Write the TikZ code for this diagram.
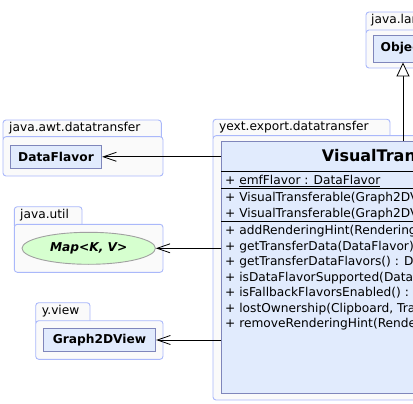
\documentclass[tikz,border=0pt]{standalone}
\usepackage{fontspec}
\setmainfont{DejaVu Sans}
\usetikzlibrary{arrows.meta,shapes.geometric}
\definecolor{pkgblue}{HTML}{AAB8FA}
\definecolor{pkgfill}{HTML}{FAFAFA}
\definecolor{clsfill}{HTML}{E1EBFD}
\definecolor{clsline}{HTML}{7F86BB}
\definecolor{ellfill}{HTML}{D6FFCF}
\definecolor{ellline}{HTML}{A0A0A0}
\tikzset{
  pkgstyle/.style={draw=pkgblue, fill=pkgfill, line width=0.9pt, rounded corners=3pt},
  pkglabel/.style={anchor=base west, inner sep=0pt, font=\fontsize{12.2}{14}\selectfont},
  clsbox/.style={draw=clsline, fill=clsfill, line width=0.9pt, inner sep=0pt, font=\fontsize{12.2}{14}\selectfont\bfseries},
  member/.style={anchor=base west, inner sep=0pt, font=\fontsize{12.2}{14}\selectfont},
  sepline/.style={line width=0.8pt, black},
  dep/.style={-{Straight Barb[length=13pt,width=9pt]}, line width=0.8pt},
  inh/.style={-{Triangle[open, length=14pt, width=13pt, fill=white]}, line width=0.8pt},
}
\newcommand\umlpackage[7]{% name, x1, xtab, x2, ytop, ytab, ybot
  \path[pkgstyle] (#2,#5) rectangle (#3,#6+4);
  \path[pkgstyle] (#2,#6) rectangle (#4,#7);
}
\begin{document}
\begin{tikzpicture}[x=1pt,y=-1pt]
\useasboundingbox (0,0) rectangle (413,404);
\clip (0,0) rectangle (413,404);
% packages
\umlpackage{awt}{3}{161.3}{163}{120}{136.7}{176}
\node[pkglabel] (pawt) at (9,131.5) {java.awt.datatransfer};
\umlpackage{util}{14.3}{82}{163}{206.7}{224.3}{272.3}
\node[pkglabel] (putil) at (20,218.2) {java.util};
\umlpackage{view}{35.7}{90}{163}{302.7}{320.7}{359.3}
\node[pkglabel] (pview) at (41.7,314.2) {y.view};
\umlpackage{yext}{213}{390}{520}{119.3}{135.7}{400}
\node[pkglabel] (pyext) at (219,130.8) {yext.export.datatransfer};
\umlpackage{lang}{366}{480}{480}{12}{30}{68}
\node[pkglabel] (plang) at (371,23.5) {java.lang};
% classes
\node[clsbox, minimum width=91.4pt, minimum height=23pt] (df) at (56,156.8) {DataFlavor};
\node[ellipse, draw=ellline, fill=ellfill, line width=0.9pt, inner sep=0pt,
      minimum width=133.4pt, minimum height=32pt,
      font=\fontsize{12.2}{14}\selectfont\bfseries\itshape] (map) at (88.7,248.3) {Map<K, V>};
\node[clsbox, minimum width=112.4pt, minimum height=23.4pt] (gv) at (99.5,340) {Graph2DView};
\node[clsbox, minimum width=59.4pt, minimum height=27pt] (obj) at (403,48.5) {Object};
\node[clsbox, anchor=north west, minimum width=400pt, minimum height=252.3pt] (vt) at (221.3,141) {};
\node[anchor=base west, inner sep=0pt, font=\fontsize{16}{18}\selectfont\bfseries] (vttitle) at (321.7,161.7) {VisualTransferable};
\draw[sepline] (221.3,171) -- (520,171);
\draw[sepline] (221.3,188.3) -- (520,188.3);
\draw[sepline] (221.3,221.7) -- (520,221.7);
\node[member] (m0) at (225,184.5) {+ \underline{emfFlavor : DataFlavor}};
\node[member] (m1) at (225,201.5) {+ VisualTransferable(Graph2DView)};
\node[member] (m2) at (225,217) {+ VisualTransferable(Graph2DView, Map)};
\node[member] (m3) at (225,234.5) {+ addRenderingHint(RenderingHints.Key, Object) : void};
\node[member] (m4) at (225,250) {+ getTransferData(DataFlavor) : Object};
\node[member] (m5) at (225,265.5) {+ getTransferDataFlavors() : DataFlavor[]};
\node[member] (m6) at (225,281) {+ isDataFlavorSupported(DataFlavor) : boolean};
\node[member] (m7) at (225,296.5) {+ isFallbackFlavorsEnabled() : boolean};
\node[member] (m8) at (225,312) {+ lostOwnership(Clipboard, Transferable) : void};
\node[member] (m9) at (225,327.5) {+ removeRenderingHint(RenderingHints.Key) : void};
% connectors
\draw[dep] (vt.west |- df.east) -- (df.east);
\draw[dep] (vt.west |- map.east) -- (map.east);
\draw[dep] (vt.west |- gv.east) -- (gv.east);
\draw[inh] (vt.north -| obj.south) -- (obj.south);
\end{tikzpicture}
\end{document}
